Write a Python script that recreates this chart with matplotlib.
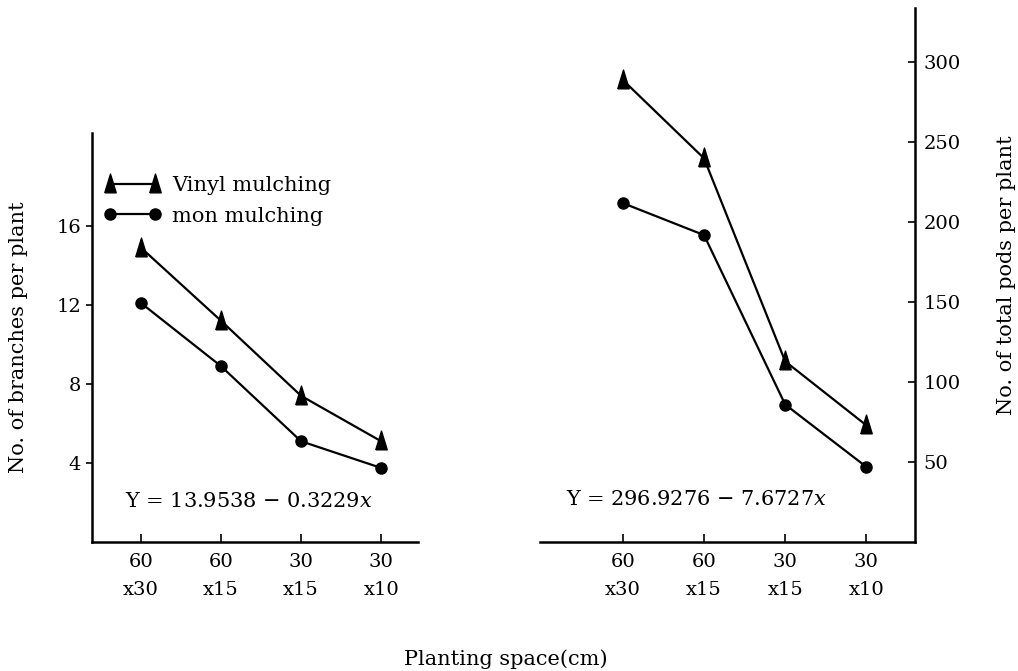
import matplotlib
matplotlib.use("Agg")
import matplotlib.pyplot as plt

# planting space treatments (cm)
spacing = ["60\nx30", "60\nx15", "30\nx15", "30\nx10"]
pos = [0, 1, 2, 3]

# no. of branches per plant
branch_vinyl = [14.9, 11.2, 7.4, 5.1]
branch_non = [12.1, 8.9, 5.1, 3.75]

# no. of total pods per plant
pods_vinyl = [289, 240, 113, 73]
pods_non = [212, 192, 86, 47]

plt.rcParams["font.family"] = ["DejaVu Serif"]
plt.rcParams["mathtext.fontset"] = "dejavuserif"
plt.rcParams["font.size"] = 15

# tall narrow triangle like the printed one
tri = [(-0.55, -0.8), (0.55, -0.8), (0.0, 1.0), (-0.55, -0.8)]

fig = plt.figure(figsize=(10.18, 6.71), dpi=100)
a1 = fig.add_axes([0.0904, 0.1922, 0.3202, 0.6096])
a2 = fig.add_axes([0.5305, 0.1922, 0.3684, 0.7958])

lkw = dict(color="black", lw=1.6)

# --- left: branches
a1.plot(pos, branch_vinyl, marker=tri, ms=15, label="Vinyl mulching", **lkw)
a1.plot(pos, branch_non, marker="o", ms=8, label="mon mulching", **lkw)
a1.set_xlim(-0.61, 3.46)
a1.set_ylim(0, 20.7)
a1.set_yticks([4, 8, 12, 16])
a1.set_xticks(pos)
a1.set_xticklabels(spacing, linespacing=1.7)
for s in ("top", "right"):
    a1.spines[s].set_visible(False)
for s in ("left", "bottom"):
    a1.spines[s].set_linewidth(1.8)
a1.tick_params(axis="y", direction="out", length=4, width=1.2, pad=4,
               labelsize=14)
a1.tick_params(axis="x", direction="in", length=6, width=1.2, pad=8,
               labelsize=14)
a1.set_ylabel("No. of branches per plant", labelpad=20)
a1.text(0.10, 0.10, r"Y = 13.9538 $-$ 0.3229$\it{x}$",
        transform=a1.transAxes, va="center", ha="left")
a1.legend(loc="upper left", bbox_to_anchor=(-0.01, 0.93), frameon=False,
          numpoints=2, handlelength=2.8, handletextpad=0.5,
          labelspacing=0.55, borderaxespad=0.3)

# --- right: pods
a2.plot(pos, pods_vinyl, marker=tri, ms=15, **lkw)
a2.plot(pos, pods_non, marker="o", ms=8, **lkw)
a2.set_xlim(-1.02, 3.6)
a2.set_ylim(0, 334)
a2.set_yticks([50, 100, 150, 200, 250, 300])
a2.set_xticks(pos)
a2.set_xticklabels(spacing, linespacing=1.7)
a2.yaxis.tick_right()
a2.yaxis.set_label_position("right")
for s in ("top", "left"):
    a2.spines[s].set_visible(False)
for s in ("right", "bottom"):
    a2.spines[s].set_linewidth(1.8)
a2.tick_params(axis="y", direction="in", length=5, width=1.2, pad=6,
               labelsize=14)
a2.tick_params(axis="x", direction="in", length=6, width=1.2, pad=8,
               labelsize=14)
a2.set_ylabel("No. of total pods per plant", labelpad=26)
a2.text(0.07, 0.08, r"Y = 296.9276 $-$ 7.6727$\it{x}$",
        transform=a2.transAxes, va="center", ha="left")

fig.text(0.497, 0.017, "Planting space(cm)", ha="center", va="center")

fig.savefig("out.png", dpi=100)
